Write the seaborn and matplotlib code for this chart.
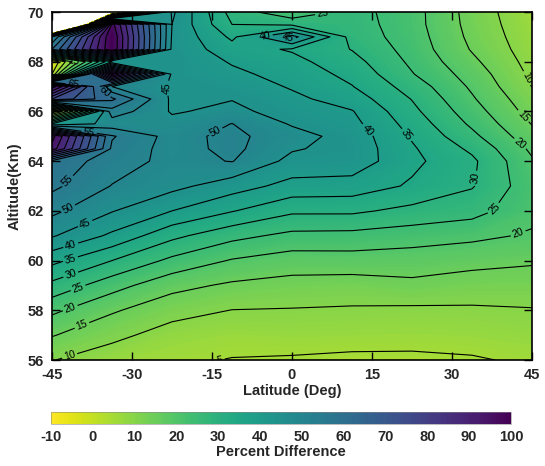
import numpy as np
import matplotlib
matplotlib.use("Agg")
import matplotlib.pyplot as plt
import seaborn as sns

# grid
lats = [-45, -33.75, -22.5, -11.25, 0, 11.25, 22.5, 33.75, 45]
alts = [56, 57, 58, 59, 60, 61, 62, 63, 64, 64.5, 65, 65.5, 66, 66.5, 67, 67.5, 68, 68.5, 69, 69.5, 70]

# percent difference, one list per latitude (bottom -> top)
pd_s45 = [10.2, 15.3, 21.1, 28.6, 36.4, 45.5, 51.2, 56.2, 58.5, 93, 97, 40, -5, 75, 98, 0, -5, 60, 50, -150, -300]
pd_s34 = [7.1, 11.4, 15.6, 22, 30, 39, 45.3, 49.8, 52.5, 54, 55.5, 47, 53, 61, 50, 96, 40, 99.8, 99.9, 97, -21]
pd_s22 = [5.8, 7.8, 11.9, 16.5, 23.8, 31.3, 40, 46.5, 48.5, 48, 48.2, 46.5, 44.5, 44, 44.5, 44, 44.5, 44, 44.5, 45, 46]
pd_s11 = [4.8, 6.8, 9.9, 14.2, 19.6, 26.5, 35.3, 42.3, 50.2, 51.3, 51.3, 50.1, 46.3, 44.8, 43, 41.2, 39.5, 37, 34, 30, 28]
pd_eq = [4.5, 7.2, 9.7, 13.2, 17.6, 23.7, 30.9, 38.3, 43.5, 45.5, 47, 44.5, 42.8, 41.2, 39.5, 38, 36.5, 34.5, 47, 29, 21]
pd_n11 = [4.0, 7.0, 9.4, 12.8, 17.8, 23.5, 30.9, 37.9, 43, 43.3, 43, 41.5, 40.3, 37.6, 35.2, 33.6, 31.8, 29.8, 28, 27.5, 27]
pd_n22 = [4.0, 6.8, 9.1, 13.9, 17.4, 22.4, 28.6, 34.3, 36.2, 35.6, 34.5, 33, 31.3, 29.8, 27.8, 25.3, 24, 23, 22.5, 22, 22]
pd_n34 = [4.5, 7.1, 9.3, 12.7, 16.5, 21.2, 26.9, 30.4, 31, 29, 26.3, 24.1, 22.3, 20.6, 19.2, 17.8, 16.1, 14.6, 13.8, 13.3, 13]
pd_n45 = [5.8, 7.8, 9.7, 12.6, 15.6, 19.4, 21.5, 22, 20.6, 19, 16.8, 14.8, 13, 11.6, 9.9, 9, 8.2, 7.5, 7, 6.5, 6]

cbar_ticks = list(range(-10, 101, 10))
xticks = [-45, -30, -15, 0, 15, 30, 45]
yticks = [56, 58, 60, 62, 64, 66, 68, 70]

Z = np.column_stack([pd_s45, pd_s34, pd_s22, pd_s11, pd_eq, pd_n11, pd_n22, pd_n34, pd_n45])
X, Y = np.meshgrid(lats, alts)

sns.set_style("ticks")
plt.rcParams['font.family'] = ['Liberation Sans', 'DejaVu Sans']
plt.rcParams['axes.unicode_minus'] = False

fig = plt.figure(figsize=(5.45, 4.66), dpi=100)
ax = fig.add_axes([52/545, 106/466, 480/545, 348/466])
cax = fig.add_axes([51/545, 41.7/466, 460/545, 12.6/466])

cmap = sns.color_palette("viridis_r", as_cmap=True)
fill_levels = np.linspace(-10, 100, 221)
cf = ax.contourf(X, Y, Z, levels=fill_levels, cmap=cmap, vmin=-10, vmax=100)

line_levels = np.arange(-5, 100, 5)
cl = ax.contour(X, Y, Z, levels=line_levels, colors='black', linewidths=0.8)

label_spots = [(-41.6, 56.1), (-39.4, 57.4), (-41.6, 58.1), (-40.1, 58.9), (-41.6, 59.5),
               (-41.6, 60.1), (-41.6, 60.7), (-38.8, 61.5), (-41.6, 61.95), (-41.6, 63.1),
               (-14.1, 65.1), (-24.75, 66.9), (15, 65.4), (21.75, 65.1), (34.7, 63.3),
               (38.4, 62.0), (42.75, 64.7), (42.4, 61.1), (43.3, 65.8), (43.7, 67.3),
               (-14.4, 56.1), (5.8, 69.9), (-5.1, 69.1), (-0.75, 68.9),
               (-38, 65.2), (-35.5, 66.7), (-41, 67.1), (-41, 68.0)]
ax.clabel(cl, fmt='%g', fontsize=7.5, manual=label_spots, inline_spacing=2)

ax.set_xlim(-45, 45)
ax.set_ylim(56, 70)
ax.set_xticks(xticks)
ax.set_yticks(yticks)
ax.tick_params(direction='in', length=6, width=1, color='black', top=True, right=True,
               pad=6, labelsize=10.5)
for lab in ax.get_xticklabels() + ax.get_yticklabels():
    lab.set_fontweight('bold')
for sp in ax.spines.values():
    sp.set_linewidth(1.2)
    sp.set_color('black')
    sp.set_zorder(5)
ax.set_axisbelow(False)
ax.set_xlabel('Latitude (Deg)', fontsize=10.5, fontweight='bold', labelpad=1)
ax.set_ylabel('Altitude(Km)', fontsize=10.5, fontweight='bold', labelpad=4)

cb = fig.colorbar(cf, cax=cax, orientation='horizontal', ticks=cbar_ticks)
cb.outline.set_linewidth(0.4)
cb.outline.set_edgecolor('#888888')
cax.tick_params(length=0, pad=4, labelsize=10.5)
for lab in cax.get_xticklabels():
    lab.set_fontweight('bold')
cb.set_label('Percent Difference', fontsize=10.5, fontweight='bold', labelpad=1)

fig.savefig('out.png', dpi=100)
